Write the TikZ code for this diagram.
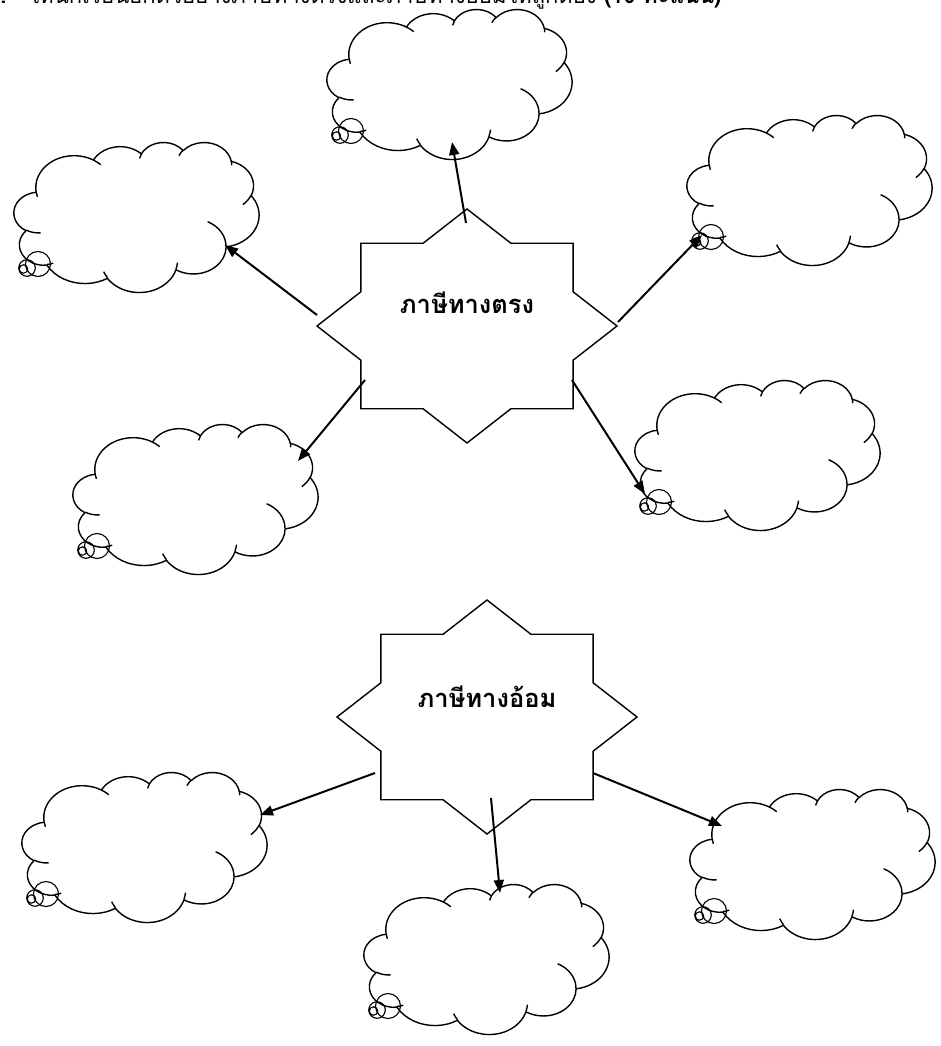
\documentclass[tikz,border=0pt]{standalone}
\usepackage{fontspec}
\newfontfamily\thaifont[Script=Thai]{Loma}
\usetikzlibrary{arrows.meta}
% cloud callout, top left corner of its 245 x 150 box at (#1,#2)
\def\cloudcallout(#1,#2){%
	\begin{scope}[shift={(#1,#2)}, x=0.56713pt, y=-0.34722pt]
		\draw[line width=1.4pt, line join=round] (39.00,143.70)
		foreach \rw/\rh/\sa/\sw [evaluate={\sa as \ta using atan2(\rw*sin(\sa),\rh*cos(\sa))},
			evaluate={\sw as \tb using atan2(\rw*sin(\sa+\sw),\rh*cos(\sa+\sw))},
			evaluate={\sw as \te using \tb+360*(\tb<\ta)}] in
			{67.53/91.90/-190.4875/123.7805, 53.33/72.67/-144.1024/89.9452,
			 43.65/59.45/-145.8079/99.7230, 48.57/65.95/-130.9861/117.2417,
			 53.33/72.73/-78.7089/109.0269, 67.75/92.20/-46.2673/130.2690,
			 57.85/78.67/0.6250/114.0333, 67.52/92.15/22.4516/115.1726,
			 77.20/105.43/66.2426/75.7110, 43.60/59.18/-274.9421/146.7356,
			 43.45/59.45/-246.8285/152.5189}
		{arc[start angle=\ta, end angle=\te, x radius=\rw, y radius=\rh]} -- cycle;
		\foreach \px/\py/\rw/\rh/\sa/\sw [evaluate={\sa as \ta using atan2(\rw*sin(\sa),\rh*cos(\sa))},
			evaluate={\sw as \tb using atan2(\rw*sin(\sa+\sw),\rh*cos(\sa+\sw))},
			evaluate={\sw as \te using \tb+360*(\tb<\ta)}] in
			{46.93/261.77/43.45/59.45/86.7420/26.4295, 69.28/348.99/43.60/59.18/73.6105/11.4475,
			 164.78/390.90/67.52/92.15/137.6242/14.0811, 288.27/347.51/67.52/92.15/6.4533/15.9984,
			 341.29/229.54/57.85/78.67/-70.2924/70.9174, 417.98/153.54/53.33/72.73/30.3180/27.7515,
			 383.24/54.26/48.57/65.95/-13.7443/14.8589, 290.78/39.52/48.57/65.95/-149.1815/18.1954,
			 221.41/47.20/43.65/59.45/-163.4943/17.6864, 140.00/51.92/67.53/91.90/-66.7070/12.3194,
			 41.27/157.89/67.53/91.90/157.6544/11.8582}
		\draw[line width=1.4pt] (\px,\py) arc[start angle=\ta, end angle=\te, x radius=\rw, y radius=\rh];
	\end{scope}
	\draw[line width=1.1pt, shift={(#1,#2)}] (24,122) circle[radius=12.5] (13,126) circle[radius=8.3]
		(9.5,127) circle[radius=4.2];}
% eight point star round (#1,#2)
\def\eightstar(#1,#2){%
	\draw[line width=1.4pt, line join=miter, shift={(#1,#2)}]
	(150,0) foreach \k in {1,...,15}{ -- ({(1-0.23463*mod(\k,2))*150*cos(22.5*\k)},{(1-0.23463*mod(\k,2))*117*sin(22.5*\k)}) } -- cycle;}

\begin{document}
	\begin{tikzpicture}[x=1pt, y=-1pt, >={Triangle[length=13pt, width=10pt]}]
		%%%%% START %%%%%
		\useasboundingbox (0,0) rectangle (940,1046);
		
		\node[anchor=base west, inner sep=0pt, font=\thaifont\fontsize{22}{26}\selectfont] (title) at (-12, 4)
			{\textbf{1.}\quad ให้นักเรียนยกตัวอย่างภาษีทางตรงและภาษีทางอ้อมให้ถูกต้อง \textbf{(10 คะแนน)}};
		
		\cloudcallout(327,9)
		\cloudcallout(14,142)
		\cloudcallout(687,115)
		\cloudcallout(635,380)
		\cloudcallout(73,424)
		\cloudcallout(22,772)
		\cloudcallout(364,884)
		\cloudcallout(690,789)
		
		\eightstar(467,326)
		\eightstar(487,717)
		
		\node[font=\thaifont\bfseries\fontsize{25.5}{30}\selectfont] (direct) at (467,303) {ภาษีทางตรง};
		\node[font=\thaifont\bfseries\fontsize{25.5}{30}\selectfont] (indirect) at (487,697) {ภาษีทางอ้อม};
		
		\coordinate (direct-n) at (466,223);
		\coordinate (direct-w) at (317,315);
		\coordinate (direct-e) at (618,322);
		\coordinate (direct-sw) at (365,380);
		\coordinate (direct-se) at (572,380);
		\coordinate (indirect-w) at (375,773);
		\coordinate (indirect-s) at (491,798);
		\coordinate (indirect-e) at (593,773);
		
		\coordinate (cloud-a) at (452,142);
		\coordinate (cloud-b) at (225,245);
		\coordinate (cloud-c) at (702,235);
		\coordinate (cloud-d) at (645,494);
		\coordinate (cloud-e) at (298,461);
		\coordinate (cloud-f) at (260,815);
		\coordinate (cloud-g) at (500,893);
		\coordinate (cloud-h) at (722,826);
		
		\draw[->, line width=2pt] (direct-n) -- (cloud-a);
		\draw[->, line width=2pt] (direct-w) -- (cloud-b);
		\draw[->, line width=2pt] (direct-e) -- (cloud-c);
		\draw[->, line width=2pt] (direct-se) -- (cloud-d);
		\draw[->, line width=2pt] (direct-sw) -- (cloud-e);
		\draw[->, line width=2pt] (indirect-w) -- (cloud-f);
		\draw[->, line width=2pt] (indirect-s) -- (cloud-g);
		\draw[->, line width=2pt] (indirect-e) -- (cloud-h);
		
		%%%%% END %%%%%
	\end{tikzpicture}
\end{document}
